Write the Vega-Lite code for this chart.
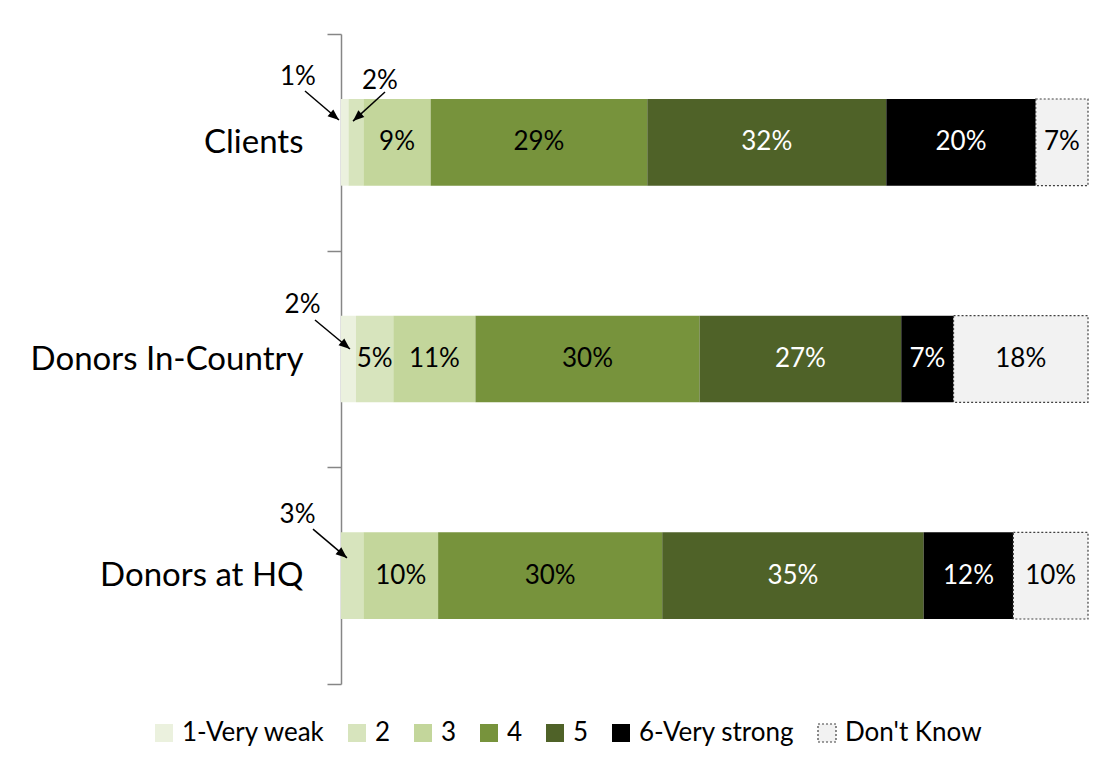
{
  "$schema": "https://vega.github.io/schema/vega-lite/v6.json",
  "width": 747,
  "height": 650,
  "padding": {"left": 5, "top": 18, "right": 11, "bottom": 5},
  "background": "white",
  "config": {"view": {"stroke": null}, "font": "Lato"},
  "datasets": {
    "ratings": [
      {"group": "Clients", "cat": "1-Very weak", "value": 0.01},
      {"group": "Clients", "cat": "2", "value": 0.02},
      {"group": "Clients", "cat": "3", "value": 0.09},
      {"group": "Clients", "cat": "4", "value": 0.29},
      {"group": "Clients", "cat": "5", "value": 0.32},
      {"group": "Clients", "cat": "6-Very strong", "value": 0.20},
      {"group": "Clients", "cat": "Don't Know", "value": 0.07},
      {"group": "Donors In-Country", "cat": "1-Very weak", "value": 0.02},
      {"group": "Donors In-Country", "cat": "2", "value": 0.05},
      {"group": "Donors In-Country", "cat": "3", "value": 0.11},
      {"group": "Donors In-Country", "cat": "4", "value": 0.30},
      {"group": "Donors In-Country", "cat": "5", "value": 0.27},
      {"group": "Donors In-Country", "cat": "6-Very strong", "value": 0.07},
      {"group": "Donors In-Country", "cat": "Don't Know", "value": 0.18},
      {"group": "Donors at HQ", "cat": "1-Very weak", "value": 0.0},
      {"group": "Donors at HQ", "cat": "2", "value": 0.03},
      {"group": "Donors at HQ", "cat": "3", "value": 0.10},
      {"group": "Donors at HQ", "cat": "4", "value": 0.30},
      {"group": "Donors at HQ", "cat": "5", "value": 0.35},
      {"group": "Donors at HQ", "cat": "6-Very strong", "value": 0.12},
      {"group": "Donors at HQ", "cat": "Don't Know", "value": 0.10}
    ],
    "notes": [
      {"label": "1%", "x": -0.0576, "y": 0.198},
      {"label": "2%", "x": 0.0522, "y": 0.217},
      {"label": "2%", "x": -0.0515, "y": 1.253},
      {"label": "3%", "x": -0.0582, "y": 2.222}
    ],
    "arrows": [
      {"arrow": "a1", "dir": "right", "end": 0, "x": -0.0482, "y": 0.263},
      {"arrow": "a1", "dir": "right", "end": 1, "x": -0.0027, "y": 0.397},
      {"arrow": "a2", "dir": "left", "end": 0, "x": 0.0589, "y": 0.268},
      {"arrow": "a2", "dir": "left", "end": 1, "x": 0.0161, "y": 0.402},
      {"arrow": "a3", "dir": "right", "end": 0, "x": -0.0348, "y": 1.320},
      {"arrow": "a3", "dir": "right", "end": 1, "x": 0.0120, "y": 1.454},
      {"arrow": "a4", "dir": "right", "end": 0, "x": -0.0375, "y": 2.285},
      {"arrow": "a4", "dir": "right", "end": 1, "x": 0.0080, "y": 2.418}
    ]
  },
  "layer": [
    {
      "data": {"name": "ratings"},
      "layer": [
        {
          "mark": {"type": "bar", "height": {"band": 0.4}, "strokeDash": [2, 2], "strokeWidth": 1.2},
          "encoding": {
            "y": {
              "field": "group", "type": "nominal",
              "sort": ["Clients", "Donors In-Country", "Donors at HQ"],
              "scale": {"paddingInner": 0, "paddingOuter": 0},
              "axis": {
                "title": null, "domainColor": "#868686", "domainWidth": 1.5,
                "tickColor": "#868686", "tickWidth": 1.5, "tickSize": 14, "tickBand": "extent",
                "labelFont": "Lato", "labelFontSize": 33, "labelColor": "black",
                "labelPadding": 24, "labelLimit": 400, "minExtent": 336, "maxExtent": 336
              }
            },
            "x": {"field": "value", "type": "quantitative", "stack": "zero", "scale": {"domain": [0, 1]}, "axis": null},
            "order": {"field": "cat", "type": "ordinal", "sort": "ascending"},
            "fill": {
              "field": "cat", "type": "nominal", "title": null,
              "scale": {
                "domain": ["1-Very weak", "2", "3", "4", "5", "6-Very strong", "Don't Know"],
                "range": ["#EBF1DE", "#D7E4BD", "#C3D69B", "#77933C", "#4F6228", "#000000", "#F2F2F2"]
              },
              "legend": {
                "title": null, "orient": "none", "legendX": -190, "legendY": 686, "direction": "horizontal",
                "symbolType": "square", "symbolSize": 324, "symbolStrokeWidth": 1.2, "symbolDash": [2, 2],
                "labelFont": "Lato", "labelFontSize": 26, "labelColor": "black", "labelOffset": 5,
                "columnPadding": 19
              }
            },
            "stroke": {
              "field": "cat", "type": "nominal", "title": null,
              "scale": {
                "domain": ["1-Very weak", "2", "3", "4", "5", "6-Very strong", "Don't Know"],
                "range": ["transparent", "transparent", "transparent", "transparent", "transparent", "transparent", "#404040"]
              },
              "legend": {
                "title": null, "orient": "none", "legendX": -190, "legendY": 686, "direction": "horizontal",
                "symbolType": "square", "symbolSize": 324, "symbolStrokeWidth": 1.2, "symbolDash": [2, 2],
                "labelFont": "Lato", "labelFontSize": 26, "labelColor": "black", "labelOffset": 5,
                "columnPadding": 19
              }
            }
          }
        },
        {
          "mark": {"type": "text", "fontSize": 26, "font": "Lato", "baseline": "middle", "align": "center"},
          "encoding": {
            "y": {"field": "group", "type": "nominal", "sort": ["Clients", "Donors In-Country", "Donors at HQ"]},
            "x": {"field": "value", "type": "quantitative", "stack": "zero", "bandPosition": 0.5, "scale": {"domain": [0, 1]}, "axis": null},
            "detail": {"field": "cat", "type": "nominal"},
            "order": {"field": "cat", "type": "ordinal", "sort": "ascending"},
            "text": {"condition": {"test": "datum.value < 0.04", "value": ""}, "field": "value", "type": "quantitative", "format": ".0%"},
            "color": {"condition": {"test": "datum.cat === '5' || datum.cat === '6-Very strong'", "value": "white"}, "value": "black"}
          }
        }
      ]
    },
    {
      "layer": [
        {
          "data": {"name": "arrows"},
          "mark": {"type": "line", "color": "black", "strokeWidth": 1.5},
          "encoding": {
            "x": {"field": "x", "type": "quantitative", "scale": {"domain": [0, 1]}, "axis": null},
            "y": {"field": "y", "type": "quantitative", "scale": {"domain": [0, 3], "reverse": true, "nice": false, "zero": false}, "axis": null},
            "detail": {"field": "arrow", "type": "nominal"}
          }
        },
        {
          "data": {"name": "arrows"},
          "transform": [{"filter": "datum.end === 1 && datum.dir === 'right'"}],
          "mark": {"type": "point", "shape": "M0,0L-0.4,1L0.4,1Z", "size": 500, "filled": true, "color": "black", "opacity": 1, "strokeWidth": 0, "angle": 130},
          "encoding": {
            "x": {"field": "x", "type": "quantitative", "axis": null},
            "y": {"field": "y", "type": "quantitative", "axis": null}
          }
        },
        {
          "data": {"name": "arrows"},
          "transform": [{"filter": "datum.end === 1 && datum.dir === 'left'"}],
          "mark": {"type": "point", "shape": "M0,0L-0.4,1L0.4,1Z", "size": 500, "filled": true, "color": "black", "opacity": 1, "strokeWidth": 0, "angle": 228},
          "encoding": {
            "x": {"field": "x", "type": "quantitative", "axis": null},
            "y": {"field": "y", "type": "quantitative", "axis": null}
          }
        },
        {
          "data": {"name": "notes"},
          "mark": {"type": "text", "fontSize": 26, "font": "Lato", "align": "center", "baseline": "middle", "color": "black"},
          "encoding": {
            "x": {"field": "x", "type": "quantitative", "axis": null},
            "y": {"field": "y", "type": "quantitative", "axis": null},
            "text": {"field": "label", "type": "nominal"}
          }
        }
      ]
    }
  ],
  "resolve": {"scale": {"y": "independent"}}
}
